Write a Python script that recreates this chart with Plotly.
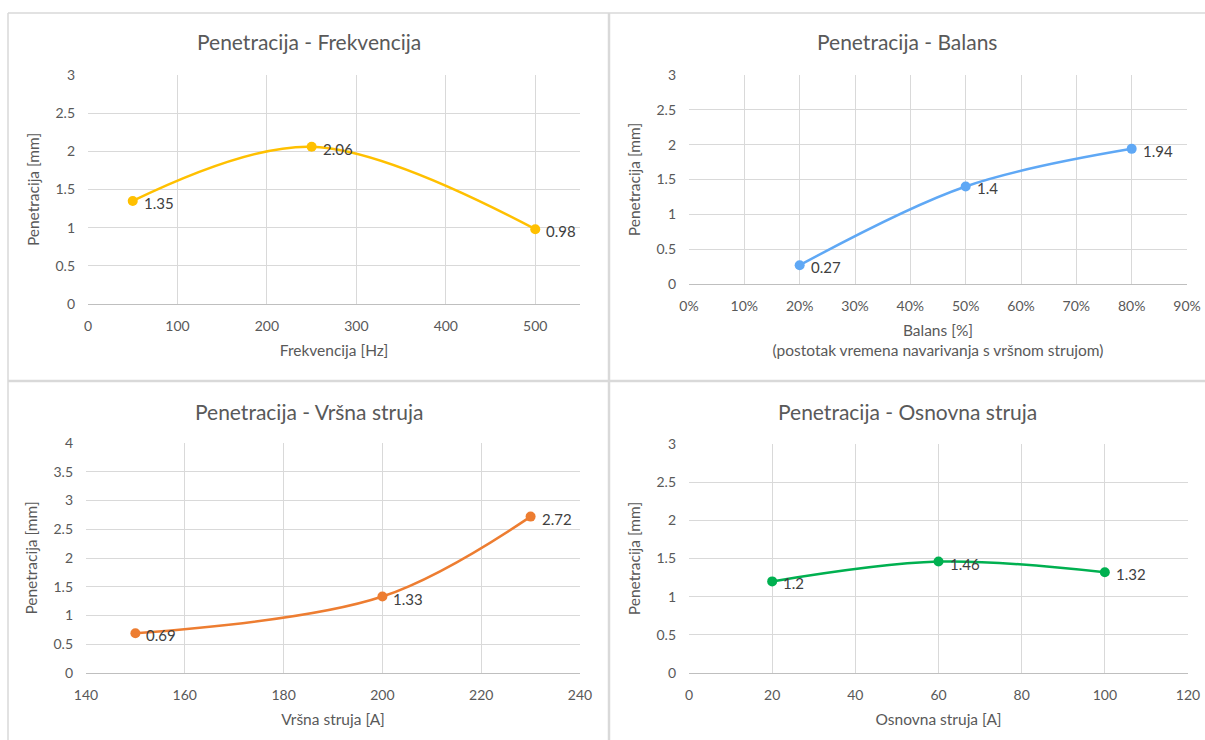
import plotly.graph_objects as go

W, H = 1205, 740

# ---- data ----
freq_x = [50, 250, 500]
freq_y = [1.35, 2.06, 0.98]

bal_x = [0.20, 0.50, 0.80]
bal_y = [0.27, 1.40, 1.94]

vrs_x = [150, 200, 230]
vrs_y = [0.69, 1.33, 2.72]

osn_x = [20, 60, 100]
osn_y = [1.20, 1.46, 1.32]

titles = ["Penetracija - Frekvencija", "Penetracija - Balans",
          "Penetracija - Vršna struja", "Penetracija - Osnovna struja"]
x_titles = ["Frekvencija [Hz]",
            "Balans [%]<br>(postotak vremena navarivanja s vršnom strujom)",
            "Vršna struja [A]", "Osnovna struja [A]"]
y_title = "Penetracija [mm]"

colors = ["#FFC000", "#5FA8F5", "#ED7D31", "#00B050"]

FONT = "Lato"
TXT = "#595959"

def px(x):
    return x / W

def py(y):
    return 1 - y / H

fig = go.Figure()

series = [(freq_x, freq_y), (bal_x, bal_y), (vrs_x, vrs_y), (osn_x, osn_y)]
for i, (xs, ys) in enumerate(series):
    ax = "" if i == 0 else str(i + 1)
    fig.add_trace(go.Scatter(
        x=xs, y=ys, xaxis="x" + ax, yaxis="y" + ax,
        mode="lines+markers",
        line=dict(color=colors[i], width=2.5, shape="spline", smoothing=1.0),
        marker=dict(color=colors[i], size=10),
        showlegend=False, cliponaxis=False,
    ))
    for xv, yv in zip(xs, ys):
        fig.add_annotation(x=xv, y=yv, xref="x" + ax, yref="y" + ax,
                           text=f"{yv:g}", showarrow=False,
                           xanchor="left", yanchor="middle", xshift=9, yshift=-2,
                           font=dict(family=FONT, size=15, color="#404040"))

# domains (pixel based)
doms = [
    ((88, 580), (75, 304)),
    ((689, 1187), (75, 284)),
    ((86, 580), (443, 673)),
    ((689, 1188), (444, 673)),
]
xr = [[0, 550], [0, 0.9], [140, 240], [0, 120]]
xd = [100, 0.1, 20, 20]
yr = [[0, 3], [0, 3], [0, 4], [0, 3]]
xfmt = ["", ".0%", "", ""]

axis_common = dict(showgrid=True, gridcolor="#D9D9D9", gridwidth=1,
                   zeroline=False, ticks="", showline=False, automargin=False,
                   tickfont=dict(family=FONT, size=14, color=TXT))

layout = dict(width=W, height=H, margin=dict(l=0, r=0, t=0, b=0, autoexpand=False),
              paper_bgcolor="white", plot_bgcolor="white",
              font=dict(family=FONT, color=TXT))
for i in range(4):
    ax = "" if i == 0 else str(i + 1)
    (x0, x1), (y0, y1) = doms[i]
    xa = dict(axis_common, domain=[px(x0), px(x1)], range=xr[i], dtick=xd[i],
              tick0=0 if i != 2 else 140, tickformat=xfmt[i],
              anchor="y" + ax, showline=True, linecolor="#BFBFBF", linewidth=1,
              ticklabelstandoff=9,
              title=dict(text=x_titles[i], font=dict(family=FONT, size=15.5, color=TXT),
                         standoff=12))
    ya = dict(axis_common, domain=[py(y1), py(y0)], range=yr[i], dtick=0.5,
              anchor="x" + ax, ticklabelstandoff=12,
              title=dict(text=y_title, font=dict(family=FONT, size=15.5, color=TXT),
                         standoff=12))
    layout["xaxis" + ax] = xa
    layout["yaxis" + ax] = ya

fig.update_layout(**layout)

# panel titles
title_y = [42, 42, 411, 411]
for i in range(4):
    cx = (8 + 609) / 2 if i % 2 == 0 else (609 + 1205) / 2
    fig.add_annotation(text=titles[i], x=px(cx), y=py(title_y[i]), xref="paper", yref="paper",
                       showarrow=False, xanchor="center", yanchor="middle",
                       font=dict(family=FONT, size=21, color=TXT))

# panel borders
border = "#D9D9D9"
shapes = [
    dict(type="line", x0=px(8), x1=1, y0=py(13), y1=py(13), line=dict(color=border, width=1.5)),
    dict(type="line", x0=px(8), x1=1, y0=py(381), y1=py(381), line=dict(color=border, width=2.5)),
    dict(type="line", x0=px(8), x1=px(8), y0=0, y1=py(13), line=dict(color=border, width=1.5)),
    dict(type="line", x0=px(609), x1=px(609), y0=0, y1=py(13), line=dict(color=border, width=2.5)),
]
for s in shapes:
    s.update(xref="paper", yref="paper", layer="below")
fig.update_layout(shapes=shapes)

post = """
var h=document.documentElement, b=document.body;
h.style.margin='0'; h.style.padding='0'; b.style.margin='0'; b.style.padding='0';
h.style.overflow='hidden'; b.style.overflow='hidden';
"""
fig.write_html("out.html", config={"displayModeBar": False}, post_script=post)
